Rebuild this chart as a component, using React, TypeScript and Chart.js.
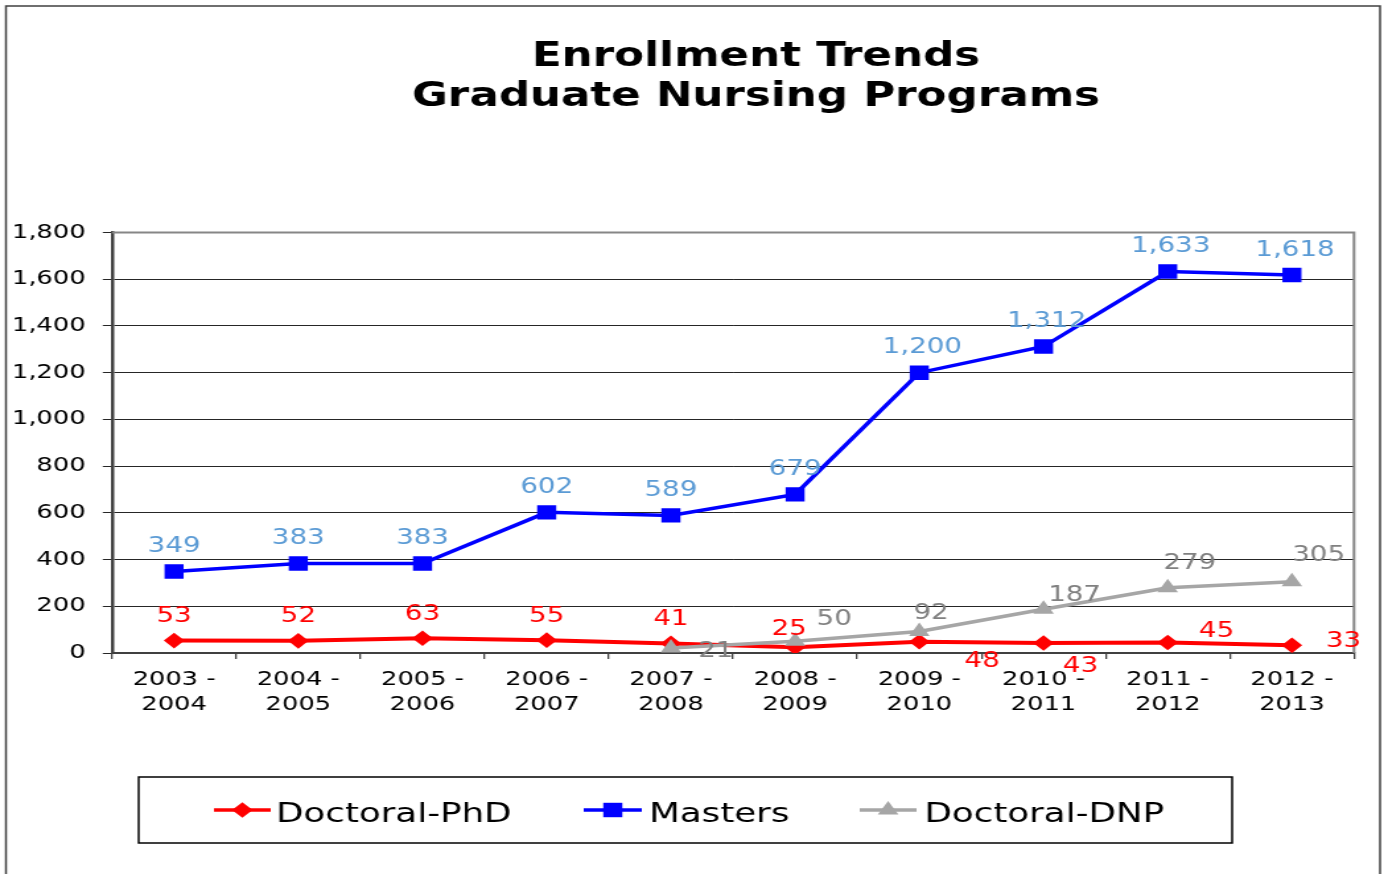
import React, { useEffect, useRef } from "react";
import { Chart, registerables } from "chart.js";

Chart.register(...registerables);

// ---------- data ----------
const categories = [
  "2003 - 2004",
  "2004 - 2005",
  "2005 - 2006",
  "2006 - 2007",
  "2007 - 2008",
  "2008 - 2009",
  "2009 - 2010",
  "2010 - 2011",
  "2011 - 2012",
  "2012 - 2013",
];
const phdValues = [53, 52, 63, 55, 41, 25, 48, 43, 45, 33];
const mastersValues = [349, 383, 383, 602, 589, 679, 1200, 1312, 1633, 1618];
const dnpValues = [null, null, null, null, 21, 50, 92, 187, 279, 305];
const yMin = 0;
const yMax = 1800;
const yStep = 200;
const titleLines = ["Enrollment Trends", "Graduate Nursing Programs"];
const seriesNames = ["Doctoral-PhD", "Masters", "Doctoral-DNP"];

// ---------- styling (label placement offsets relative to each point) ----------
const phdLabelOffsets = [
  [0, -26], [0, -26], [0, -26], [0, -26], [0, -26],
  [-4.5, -20], [47.5, 18], [28, 21], [37, -13.5], [39, -5.5],
];
const mastersLabelOffsets = [
  [0, -27], [0, -27], [0, -27], [0, -27], [0, -27],
  [0, -27], [2.3, -27], [2.3, -27], [2.3, -27], [2.3, -27],
];
const dnpLabelOffsets = [
  [0, 0], [0, 0], [0, 0], [0, 0],
  [34, 1.5], [29.6, -23.6], [8.9, -20.5], [23.5, -16], [16.7, -26], [20.2, -28],
];

const LOGICAL_W = 1048;
const LOGICAL_H = 874;
const DISPLAY_W = 1384;
const DISPLAY_H = 874;
const FONT = '"DejaVu Sans", Verdana, sans-serif';

const seriesStyles = [
  { color: "#FF0000", labelColor: "#FF0000", pointStyle: "rectRot", radius: 7.8, width: 4 },
  { color: "#0000FF", labelColor: "#5B9BD5", pointStyle: "rect", radius: 10.2, width: 3.5 },
  { color: "#A6A6A6", labelColor: "#808080", pointStyle: "triangle", radius: 9, width: 3.5 },
];

const legendItemLayout = [
  { x0: 162, x1: 205, mx: 183.5, tx: 209 },
  { x0: 442, x1: 486, mx: 464, tx: 491.5 },
  { x0: 651, x1: 694, mx: 672.5, tx: 700 },
];

function drawMarker(ctx: CanvasRenderingContext2D, style: string, x: number, y: number, r: number, color: string) {
  ctx.save();
  ctx.fillStyle = color;
  ctx.beginPath();
  if (style === "rect") {
    const s = r * Math.SQRT1_2;
    ctx.rect(x - s, y - s, 2 * s, 2 * s);
  } else if (style === "rectRot") {
    ctx.moveTo(x, y - r);
    ctx.lineTo(x + r, y);
    ctx.lineTo(x, y + r);
    ctx.lineTo(x - r, y);
    ctx.closePath();
  } else {
    const sx = r * Math.sin((2 * Math.PI) / 3);
    ctx.moveTo(x, y - r);
    ctx.lineTo(x + sx, y + r / 2);
    ctx.lineTo(x - sx, y + r / 2);
    ctx.closePath();
  }
  ctx.fill();
  ctx.restore();
}

const decorPlugin = {
  id: "decor",
  beforeDraw(chart: any) {
    const ctx: CanvasRenderingContext2D = chart.ctx;
    ctx.save();
    ctx.fillStyle = "#FFFFFF";
    ctx.fillRect(0, 0, chart.width, chart.height);
    // outer frame
    ctx.strokeStyle = "#404040";
    ctx.lineWidth = 1.5;
    ctx.strokeRect(4.5, 6, 1045 - 4.5, chart.height + 20);
    // title
    ctx.fillStyle = "#000000";
    ctx.textAlign = "center";
    ctx.textBaseline = "alphabetic";
    ctx.font = `bold 33px ${FONT}`;
    ctx.fillText(titleLines[0], 572.5, 66);
    ctx.fillText(titleLines[1], 572.5, 106);
    ctx.restore();
  },
  beforeDatasetsDraw(chart: any) {
    const ctx: CanvasRenderingContext2D = chart.ctx;
    const a = chart.chartArea;
    ctx.save();
    ctx.strokeStyle = "#868686";
    ctx.lineWidth = 2;
    ctx.beginPath();
    ctx.moveTo(a.left, a.top);
    ctx.lineTo(a.right, a.top);
    ctx.lineTo(a.right, a.bottom);
    ctx.stroke();
    ctx.restore();
  },
  afterDatasetsDraw(chart: any) {
    const ctx: CanvasRenderingContext2D = chart.ctx;
    const offsetsBySeries = [phdLabelOffsets, mastersLabelOffsets, dnpLabelOffsets];
    ctx.save();
    ctx.font = `21px ${FONT}`;
    ctx.textAlign = "center";
    ctx.textBaseline = "alphabetic";
    chart.data.datasets.forEach((ds: any, di: number) => {
      const meta = chart.getDatasetMeta(di);
      ctx.fillStyle = seriesStyles[di].labelColor;
      ds.data.forEach((v: number | null, i: number) => {
        if (v === null || v === undefined) return;
        const el = meta.data[i];
        if (!el) return;
        const [dx, dy] = offsetsBySeries[di][i];
        ctx.fillText(Number(v).toLocaleString("en-US"), el.x + dx, el.y + dy + 7.6);
      });
    });
    ctx.restore();
  },
  afterDraw(chart: any) {
    const ctx: CanvasRenderingContext2D = chart.ctx;
    ctx.save();
    // legend box
    ctx.strokeStyle = "#000000";
    ctx.lineWidth = 1.5;
    ctx.strokeRect(105, 777, 828, 66);
    ctx.font = `27px ${FONT}`;
    ctx.textAlign = "left";
    ctx.textBaseline = "alphabetic";
    seriesNames.forEach((name, i) => {
      const st = seriesStyles[i];
      const L = legendItemLayout[i];
      ctx.strokeStyle = st.color;
      ctx.lineWidth = 3.5;
      ctx.beginPath();
      ctx.moveTo(L.x0, 810);
      ctx.lineTo(L.x1, 810);
      ctx.stroke();
      drawMarker(ctx, st.pointStyle, L.mx, 810, st.radius, st.color);
      ctx.fillStyle = "#000000";
      ctx.fillText(name, L.tx, 821.5);
    });
    ctx.restore();
  },
};

export default function App() {
  const canvasRef = useRef<HTMLCanvasElement | null>(null);

  useEffect(() => {
    document.body.style.margin = "0";
    const canvas = canvasRef.current;
    if (!canvas) return;
    const seriesData = [phdValues, mastersValues, dnpValues];
    const drawOrder = [1, 2, 0];
    const chart = new Chart(canvas, {
      type: "line",
      data: {
        labels: categories,
        datasets: seriesNames.map((name, i) => ({
          label: name,
          data: seriesData[i],
          borderColor: seriesStyles[i].color,
          backgroundColor: seriesStyles[i].color,
          pointBackgroundColor: seriesStyles[i].color,
          pointBorderColor: seriesStyles[i].color,
          pointBorderWidth: 0,
          pointStyle: seriesStyles[i].pointStyle as any,
          pointRadius: seriesStyles[i].radius,
          borderWidth: seriesStyles[i].width,
          tension: 0,
          fill: false,
          spanGaps: false,
          order: drawOrder[i],
        })),
      },
      options: {
        animation: false,
        responsive: false,
        maintainAspectRatio: false,
        devicePixelRatio: 1,
        layout: { padding: { top: 232.5, right: 22.7, bottom: 151, left: 0 } },
        plugins: {
          legend: { display: false },
          title: { display: false },
          tooltip: { enabled: false },
        },
        scales: {
          x: {
            type: "category",
            offset: true,
            grid: {
              offset: true,
              drawOnChartArea: false,
              drawTicks: true,
              tickLength: 6,
              color: "#404040",
              lineWidth: 1.3,
            },
            border: { display: true, color: "#404040", width: 2 },
            ticks: {
              autoSkip: false,
              maxRotation: 0,
              minRotation: 0,
              padding: 9,
              color: "#000000",
              font: { family: FONT, size: 19.5, lineHeight: 1.25 },
              callback: (_v: any, i: number) => {
                const parts = categories[i].split(" - ");
                return [parts[0] + " -", parts[1]];
              },
            },
            afterFit: (s: any) => {
              s.height = 70;
            },
          },
          y: {
            min: yMin,
            max: yMax,
            ticks: {
              stepSize: yStep,
              padding: 13,
              color: "#000000",
              font: { family: FONT, size: 19.5 },
              callback: (v: any) => Number(v).toLocaleString("en-US"),
            },
            grid: { color: "#262626", lineWidth: 1, tickLength: 7, drawTicks: true },
            border: { display: true, color: "#404040", width: 2.5 },
            afterFit: (s: any) => {
              s.width = 84.8;
            },
          },
        },
      },
      plugins: [decorPlugin],
    });
    return () => chart.destroy();
  }, []);

  return (
    <canvas
      ref={canvasRef}
      width={LOGICAL_W}
      height={LOGICAL_H}
      style={{ width: `${DISPLAY_W}px`, height: `${DISPLAY_H}px`, display: "block" }}
    />
  );
}
